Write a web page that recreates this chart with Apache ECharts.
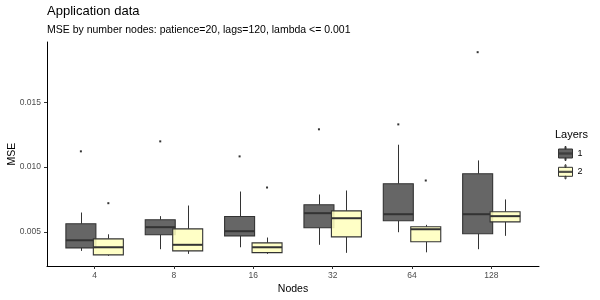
<!DOCTYPE html>
<html>
<head>
<meta charset="utf-8">
<script src="https://cdn.jsdelivr.net/npm/echarts@6/dist/echarts.min.js"></script>
<style>
html,body{margin:0;padding:0;background:#fff;}
#chart{width:600px;height:300px;}
</style>
</head>
<body>
<div id="chart"></div>
<script>
// ---- data ----
const categories = ['4', '8', '16', '32', '64', '128'];
const layerNames = ['1', '2'];
// [whisker low, Q1, median, Q3, whisker high] per node count
const layer1Stats = [
  [0.00353, 0.00376, 0.00435, 0.00562, 0.00649],
  [0.00366, 0.00477, 0.00536, 0.00593, 0.00621],
  [0.00381, 0.00469, 0.00505, 0.00618, 0.00811],
  [0.00400, 0.00531, 0.00644, 0.00709, 0.00788],
  [0.00497, 0.00585, 0.00636, 0.00871, 0.01172],
  [0.00366, 0.00485, 0.00636, 0.00948, 0.01051]
];
const layer2Stats = [
  [0.00315, 0.00322, 0.00381, 0.00446, 0.00481],
  [0.00330, 0.00353, 0.00400, 0.00523, 0.00703],
  [0.00330, 0.00340, 0.00381, 0.00415, 0.00456],
  [0.00338, 0.00461, 0.00605, 0.00662, 0.00819],
  [0.00342, 0.00423, 0.00520, 0.00539, 0.00554],
  [0.00469, 0.00577, 0.00621, 0.00655, 0.00750]
];
// outliers: [category index, value]
const layer1Outliers = [[0, 0.01121], [1, 0.01198], [2, 0.01082], [3, 0.01291], [4, 0.01329], [5, 0.01886]];
const layer2Outliers = [[0, 0.00721], [2, 0.00842], [4, 0.00896]];
const yTicks = [0.005, 0.010, 0.015];

// ---- styling ----
const FONT = 'Liberation Sans, Arial, sans-serif';
const DODGE = 0.173;
const HALF_W = 0.189;
const fills = ['rgba(90,90,90,0.93)', 'rgba(255,255,190,0.88)'];
const legendFills = ['#636363', '#ffffcc'];
const LINE = '#333333';

const allVals = [].concat(...layer1Stats, ...layer2Stats,
  layer1Outliers.map(d => d[1]), layer2Outliers.map(d => d[1]));
const dMin = Math.min(...allVals), dMax = Math.max(...allVals);
const yMin = dMin - 0.05 * (dMax - dMin);
const yMax = dMax + 0.05 * (dMax - dMin);

function boxRender(offset, fill) {
  return function (params, api) {
    const i = api.value(0);
    const lo = api.value(1), q1 = api.value(2), md = api.value(3), q3 = api.value(4), hi = api.value(5);
    const cx = i + offset;
    const tl = api.coord([cx - HALF_W, q3]);
    const br = api.coord([cx + HALF_W, q1]);
    const pHi = api.coord([cx, hi]);
    const pQ3 = api.coord([cx, q3]);
    const pQ1 = api.coord([cx, q1]);
    const pLo = api.coord([cx, lo]);
    const mL = api.coord([cx - HALF_W, md]);
    const mR = api.coord([cx + HALF_W, md]);
    const x = Math.round(pHi[0]) + 0.5;
    return {
      type: 'group',
      children: [
        {type: 'line', shape: {x1: x, y1: pHi[1], x2: x, y2: pQ3[1]}, style: {stroke: LINE, lineWidth: 1}},
        {type: 'line', shape: {x1: x, y1: pQ1[1], x2: x, y2: pLo[1]}, style: {stroke: LINE, lineWidth: 1}},
        {type: 'rect', shape: {x: tl[0], y: tl[1], width: br[0] - tl[0], height: br[1] - tl[1]},
          style: {fill: fill, stroke: LINE, lineWidth: 1.1}},
        {type: 'line', shape: {x1: mL[0], y1: mL[1], x2: mR[0], y2: mR[1]}, style: {stroke: LINE, lineWidth: 2}}
      ]
    };
  };
}
function outlierRender(offset) {
  return function (params, api) {
    const p = api.coord([api.value(0) + offset, api.value(1)]);
    return {type: 'rect', shape: {x: p[0] - 1, y: p[1] - 1, width: 2, height: 2}, style: {fill: LINE}};
  };
}
const toRows = stats => stats.map((s, i) => [i].concat(s));

const iconPath = 'path://M6.5,0H7.5V2.5H6.5Z M0,2.5H14V11.5H0Z M0,6.5H14V7.5H0Z M6.5,11.5H7.5V14H6.5Z';

const option = {
  backgroundColor: '#ffffff',
  animation: false,
  title: [
    {text: 'Application data', left: 47, top: 5, padding: 0,
      textStyle: {fontFamily: FONT, fontSize: 13, fontWeight: 'normal', color: '#000'}},
    {text: 'MSE by number nodes: patience=20, lags=120, lambda <= 0.001', left: 47, top: 25, padding: 0,
      textStyle: {fontFamily: FONT, fontSize: 10.5, fontWeight: 'normal', color: '#000'}},
    {text: 'Layers', left: 555, top: 129, padding: 0,
      textStyle: {fontFamily: FONT, fontSize: 11, fontWeight: 'normal', color: '#000'}}
  ],
  legend: {
    orient: 'vertical', left: 558, top: 146, padding: 0,
    itemWidth: 14, itemHeight: 14, itemGap: 3.3,
    data: layerNames.map(n => ({name: n, icon: iconPath})),
    itemStyle: {borderColor: LINE, borderWidth: 1},
    textStyle: {fontFamily: FONT, fontSize: 9, color: '#000'}
  },
  grid: {left: 47, right: 61, top: 42, bottom: 34, containLabel: false, outerBoundsMode: 'none'},
  xAxis: {
    type: 'value', min: -0.6, max: categories.length - 1 + 0.6,
    name: 'Nodes', nameLocation: 'middle', nameGap: 18, nameMoveOverlap: false,
    nameTextStyle: {fontFamily: FONT, fontSize: 10.5, color: '#000'},
    splitLine: {show: false},
    axisLine: {show: true, onZero: false, lineStyle: {color: '#000', width: 1}},
    axisTick: {show: true, length: 3, lineStyle: {color: LINE}, customValues: categories.map((c, i) => i)},
    axisLabel: {fontFamily: FONT, fontSize: 8.5, color: '#4d4d4d', margin: 5,
      customValues: categories.map((c, i) => i), formatter: v => categories[Math.round(v)]}
  },
  yAxis: {
    type: 'value', min: yMin, max: yMax,
    name: 'MSE', nameLocation: 'middle', nameGap: 29.5, nameRotate: 90, nameMoveOverlap: false,
    nameTextStyle: {fontFamily: FONT, fontSize: 10.5, color: '#000'},
    splitLine: {show: false},
    axisLine: {show: true, onZero: false, lineStyle: {color: '#000', width: 1}},
    axisTick: {show: true, length: 3, lineStyle: {color: LINE}, customValues: yTicks},
    axisLabel: {fontFamily: FONT, fontSize: 8.5, color: '#4d4d4d', margin: 6,
      customValues: yTicks, formatter: v => v.toFixed(3)}
  },
  series: [
    {name: '1', type: 'custom', renderItem: boxRender(-DODGE, fills[0]), itemStyle: {color: legendFills[0]},
      encode: {x: 0, y: [1, 2, 3, 4, 5]}, data: toRows(layer1Stats), z: 2},
    {name: '2', type: 'custom', renderItem: boxRender(DODGE, fills[1]), itemStyle: {color: legendFills[1]},
      encode: {x: 0, y: [1, 2, 3, 4, 5]}, data: toRows(layer2Stats), z: 3},
    {name: 'out1', type: 'custom', renderItem: outlierRender(-DODGE), encode: {x: 0, y: 1}, data: layer1Outliers, z: 4},
    {name: 'out2', type: 'custom', renderItem: outlierRender(DODGE), encode: {x: 0, y: 1}, data: layer2Outliers, z: 4}
  ]
};
const chart = echarts.init(document.getElementById('chart'), null, {renderer: 'canvas'});
chart.setOption(option);
</script>
</body>
</html>
